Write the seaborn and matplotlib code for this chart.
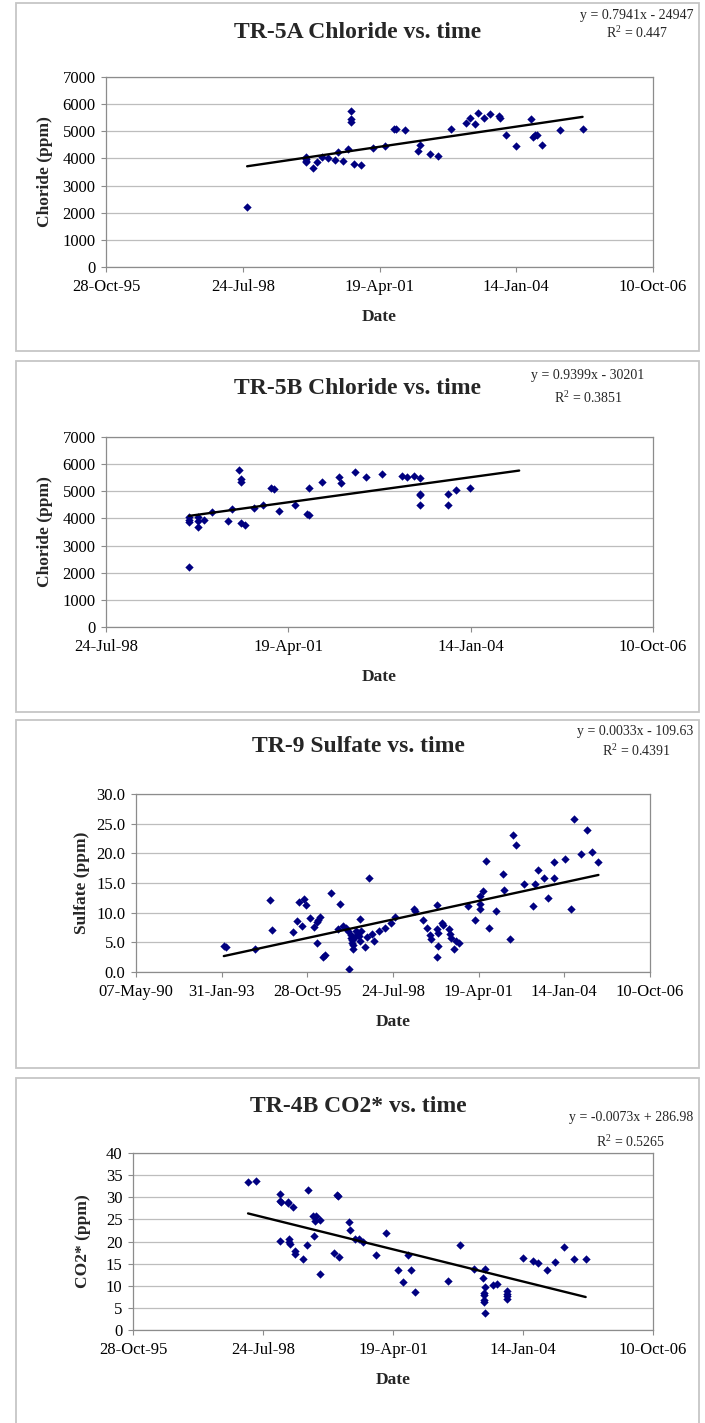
import datetime as dt
import numpy as np
import pandas as pd
import matplotlib
matplotlib.use("Agg")
import matplotlib.pyplot as plt
import seaborn as sns
from matplotlib.patches import Rectangle
from matplotlib.ticker import FuncFormatter, MultipleLocator

# dates are Excel serial day numbers (35000 = 28-Oct-95)
tr5a_date = [36032, 36459, 36459, 36461, 36465, 36515, 36544, 36583, 36627, 36673,
             36695, 36732, 36768, 36795, 36795, 36795, 36815, 36866, 36951, 37039,
             37105, 37119, 37190, 37279, 37296, 37372, 37425, 37520, 37629, 37659,
             37695, 37722, 37761, 37807, 37873, 37878, 37923, 37996, 38108, 38122,
             38138, 38154, 38190, 38322, 38485]
tr5a_cl = [2220, 4060, 3990, 3920, 3860, 3660, 3880, 4040, 4020, 3930,
           4230, 3890, 4340, 5750, 5450, 5340, 3800, 3740, 4370, 4460,
           5080, 5080, 5030, 4270, 4480, 4150, 4090, 5100, 5310, 5490,
           5260, 5690, 5500, 5620, 5550, 5500, 4860, 4470, 5470, 4800,
           4850, 4880, 4490, 5030, 5100]

tr5b_date = [36455, 36455, 36455, 36455, 36505, 36505, 36505, 36539, 36581, 36667,
             36693, 36729, 36739, 36739, 36739, 36764, 36814, 36861, 36907, 36920,
             36947, 37037, 37100, 37113, 37113, 37185, 37276, 37291, 37367, 37424,
             37516, 37623, 37653, 37687, 37722, 37722, 37722, 37722, 37877, 37877,
             37920, 37996]
tr5b_cl = [4070, 3950, 3860, 2220, 4050, 3920, 3680, 3950, 4240, 3910,
           4350, 5770, 5470, 5360, 3830, 3750, 4390, 4480, 5120, 5070,
           4280, 4490, 4160, 4110, 5120, 5340, 5520, 5290, 5720, 5520,
           5650, 5550, 5520, 5570, 5500, 4900, 4850, 4490, 4910, 4510,
           5040, 5130]

tr9_date = [34025, 34052, 34394, 34569, 34592, 34833, 34876, 34907, 34938, 34965,
            34988, 35035, 35082, 35113, 35128, 35148, 35116, 35179, 35206, 35272,
            35361, 35384, 35419, 35447, 35470, 35482, 35509, 35513, 35520, 35524,
            35528, 35532, 35555, 35571, 35586, 35602, 35610, 35621, 35617, 35668,
            35695, 35722, 35750, 35781, 35839, 35909, 35971, 36029, 36250, 36262,
            36355, 36402, 36429, 36445, 36518, 36518, 36530, 36530, 36515, 36573,
            36588, 36650, 36662, 36682, 36709, 36740, 36767, 36872, 36953, 37012,
            37016, 37016, 37047, 37085, 37120, 37198, 37280, 37295, 37361, 37404,
            37431, 37528, 37629, 37656, 37695, 37765, 37812, 37882, 37885, 38002,
            38076, 38118, 38196, 38262, 38320, 38398]
tr9_so4 = [4.45, 4.17, 3.95, 12.18, 7.10, 6.71, 8.57, 11.78, 7.78, 12.29,
           11.27, 9.13, 7.61, 8.40, 8.79, 9.19, 4.85, 2.48, 2.88, 13.36,
           7.33, 11.50, 7.72, 7.44, 6.99, 0.45, 6.3, 5.75, 5.35, 4.95,
           4.5, 3.95, 5.9, 6.9, 6.5, 6.1, 5.2, 6.9, 8.95, 4.17,
           5.92, 15.78, 6.43, 5.19, 6.93, 7.5, 8.29, 9.24, 10.54, 10.32,
           8.79, 7.44, 6.20, 5.64, 11.27, 7.33, 6.6, 4.40, 2.59, 8.29,
           7.89, 7.22, 6.37, 5.81, 3.95, 5.24, 4.96, 11.05, 8.68, 10.6,
           11.5, 12.85, 13.64, 18.77, 7.38, 10.2, 16.57, 13.75, 5.58, 23.05,
           21.42, 14.77, 11.05, 14.77, 17.14, 15.9, 12.46, 18.55, 15.78, 19.0,
           10.65, 25.87, 19.84, 23.9, 20.18, 18.55]

tr4b_date = [35885, 35946, 36133, 36133, 36135, 36190, 36192, 36231, 36131, 36200,
             36200, 36205, 36244, 36249, 36305, 36346, 36336, 36385, 36405, 36397,
             36390, 36436, 36441, 36544, 36569, 36577, 36585, 36662, 36672, 36708,
             36738, 36767, 36869, 36949, 37036, 37074, 37118, 37138, 37167, 37423,
             37515, 37626, 37708, 37692, 37708, 37700, 37700, 37703, 37703, 37705,
             37767, 37800, 37877, 37877, 37877, 37877, 38000, 38074, 38118, 38187,
             38246, 38318, 38395, 38482]
tr4b_co2 = [33.36, 33.58, 30.8, 29.2, 28.84, 28.99, 28.6, 27.71, 20.18, 20.56,
            19.88, 19.5, 17.92, 17.17, 16.11, 31.63, 19.28, 25.68, 25.75, 24.55,
            21.16, 24.85, 12.73, 17.47, 30.57, 30.27, 16.49, 24.4, 22.5, 20.56,
            20.56, 19.88, 17.02, 21.84, 13.63, 10.84, 16.87, 13.48, 8.58, 10.99,
            19.2, 13.7, 13.86, 11.75, 9.79, 8.43, 7.98, 6.7, 6.25, 3.77,
            10.17, 10.39, 8.73, 8.13, 7.6, 7.08, 16.27, 15.59, 15.21, 13.63,
            15.36, 18.67, 15.96, 15.96]

titles = ["TR-5A Chloride vs. time", "TR-5B Chloride vs. time",
          "TR-9 Sulfate vs. time", "TR-4B CO2* vs. time"]
ylabels = ["Choride (ppm)", "Choride (ppm)", "Sulfate (ppm)", "CO2* (ppm)"]
equations = ["y = 0.7941x - 24947", "y = 0.9399x - 30201",
             "y = 0.0033x - 109.63", "y = -0.0073x + 286.98"]
r2_labels = ["R$^2$ = 0.447", "R$^2$ = 0.3851", "R$^2$ = 0.4391", "R$^2$ = 0.5265"]

sns.set_style("white")
plt.rcParams['font.family'] = ['Liberation Serif', 'DejaVu Serif']
plt.rcParams['mathtext.fontset'] = 'custom'
plt.rcParams['mathtext.rm'] = 'Liberation Serif'

W, H = 705, 1423
fig = plt.figure(figsize=(W / 100, H / 100), dpi=100)
fig.patch.set_facecolor('white')

excel_base = dt.date(1899, 12, 30)
date_fmt = FuncFormatter(lambda v, p: (excel_base + dt.timedelta(days=int(round(v)))).strftime('%d-%b-%y'))


def px_axes(l, t, r, b):
    return fig.add_axes([l / W, 1 - b / H, (r - l) / W, (b - t) / H])


def ftext(x, y, s, **kw):
    fig.text(x / W, 1 - y / H, s, **kw)


def panel(i, dates, vals, box, area, xlim, ylim, ystep, yfmt, title_y, eq_pos, r2_pos,
          ylab_x, extend=0):
    # outer chart box
    bx0, by0, bx1, by1 = box
    fig.patches.append(Rectangle((bx0 / W, 1 - by1 / H), (bx1 - bx0) / W, (by1 - by0) / H,
                                 transform=fig.transFigure, fill=False,
                                 ec='#c6c6c6', lw=1.3))
    ax = px_axes(*area)
    df = pd.DataFrame({'date': dates, 'val': vals})
    sns.scatterplot(data=df, x='date', y='val', ax=ax, marker='D', color='#000080',
                    s=18, linewidth=0, zorder=3)
    coef = np.polyfit(df['date'], df['val'], 1)
    xs = np.array([df['date'].min(), df['date'].max() + extend])
    ax.plot(xs, np.polyval(coef, xs), color='black', lw=1.7, zorder=4)

    ax.set_xlim(*xlim)
    ax.set_ylim(*ylim)
    ax.xaxis.set_major_locator(MultipleLocator(1000))
    ax.xaxis.set_major_formatter(date_fmt)
    ax.yaxis.set_major_locator(MultipleLocator(ystep))
    ax.yaxis.set_major_formatter(FuncFormatter(lambda v, p: yfmt.format(v)))
    ax.grid(axis='y', color='#bdbdbd', lw=0.9)
    ax.grid(axis='x', visible=False)
    ax.set_axisbelow(True)
    for sp in ax.spines.values():
        sp.set_color('#8c8c8c')
        sp.set_linewidth(0.9)
    ax.tick_params(axis='both', direction='out', length=3.5, width=0.8, color='#8c8c8c',
                   labelsize=12, labelcolor='black', left=True, bottom=True)
    ax.tick_params(axis='x', pad=5)
    ax.tick_params(axis='y', pad=4)
    ax.set_xlabel('')
    ax.set_ylabel('')

    l, t, r, b = area
    ftext((bx0 + bx1) / 2 + 0.5, title_y, titles[i], ha='center', va='center',
          fontsize=17, fontweight='bold')
    ftext(eq_pos[0], eq_pos[1], equations[i], ha='center', va='center', fontsize=10)
    ftext(r2_pos[0], r2_pos[1], r2_labels[i], ha='center', va='center', fontsize=10)
    ftext((l + r) / 2, b + 50, 'Date', ha='center', va='center', fontsize=12.5,
          fontweight='bold')
    ftext(ylab_x, (t + b) / 2, ylabels[i], ha='center', va='center', rotation=90,
          fontsize=12.5, fontweight='bold')
    return ax


panel(0, tr5a_date, tr5a_cl, (16, 3, 699, 351), (106, 77, 653, 267),
      (35000, 39000), (0, 7000), 1000, '{:.0f}', 32, (637, 15), (637, 33), 45)
panel(1, tr5b_date, tr5b_cl, (16, 361, 699, 712), (106, 437, 653, 627),
      (36000, 39000), (0, 7000), 1000, '{:.0f}', 388, (588, 375), (588, 398), 45,
      extend=270)
panel(2, tr9_date, tr9_so4, (16, 720, 699, 1068), (136, 794, 650, 972),
      (33000, 39000), (0, 30), 5, '{:.1f}', 747, (635, 732), (636, 751), 82)
panel(3, tr4b_date, tr4b_co2, (16, 1078, 699, 1440), (133, 1153, 653, 1330),
      (35000, 39000), (0, 40), 5, '{:.0f}', 1107, (631, 1118), (631, 1142), 83)

fig.savefig('out.png', dpi=100, facecolor='white')
